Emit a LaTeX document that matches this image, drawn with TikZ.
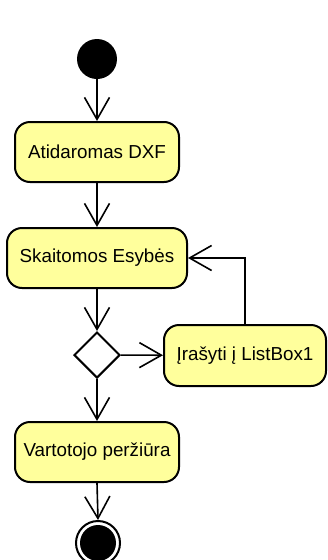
\documentclass[tikz,border=0pt]{standalone}
\usepackage{fontspec}
\setmainfont{Liberation Sans}
\usetikzlibrary{arrows.meta,shapes.geometric}
\definecolor{actfill}{RGB}{255,255,156}
\tikzset{
  actbox/.style={draw=black, fill=actfill, line width=2pt, rounded corners=15pt,
    minimum height=60pt, inner sep=0pt, font=\fontsize{18.8pt}{22pt}\selectfont},
  flow/.style={line width=1.6pt, -{Straight Barb[length=22pt,width=25pt,line width=1.6pt]}},
}
\begin{document}
\begin{tikzpicture}[x=1pt,y=-1pt]
\useasboundingbox (0,0) rectangle (328,560);
\node (start) [circle, fill=black, minimum size=40pt, inner sep=0pt] at (97,59) {};
\node (a1) [actbox, minimum width=164pt] at (97,152) {Atidaromas DXF};
\node (a2) [actbox, minimum width=180pt] at (97,258) {Skaitomos Esybės};
\node (dec) [diamond, draw, line width=2pt, fill=white, minimum width=46pt, minimum height=46pt, inner sep=0pt] at (97,355) {};
\node (a3) [actbox, minimum width=162pt, minimum height=61pt] at (245,355.5) {Įrašyti į ListBox1};
\node (a4) [actbox, minimum width=164pt] at (97,452) {Vartotojo peržiūra};
\node (end) [circle, draw, line width=2pt, minimum size=44pt, inner sep=0pt,
  path picture={\fill[black] (path picture bounding box.center) circle (18pt);}] at (98,543) {};
\draw[flow] (start) -- (a1);
\draw[flow] (a1) -- (a2);
\draw[flow] (a2) -- (dec);
\draw[flow] (dec) -- (a3);
\draw[flow] (a3.north) |- (a2.east);
\draw[flow] (dec) -- (a4);
\draw[flow] (a4.south) -- (end.north);
\end{tikzpicture}
\end{document}
